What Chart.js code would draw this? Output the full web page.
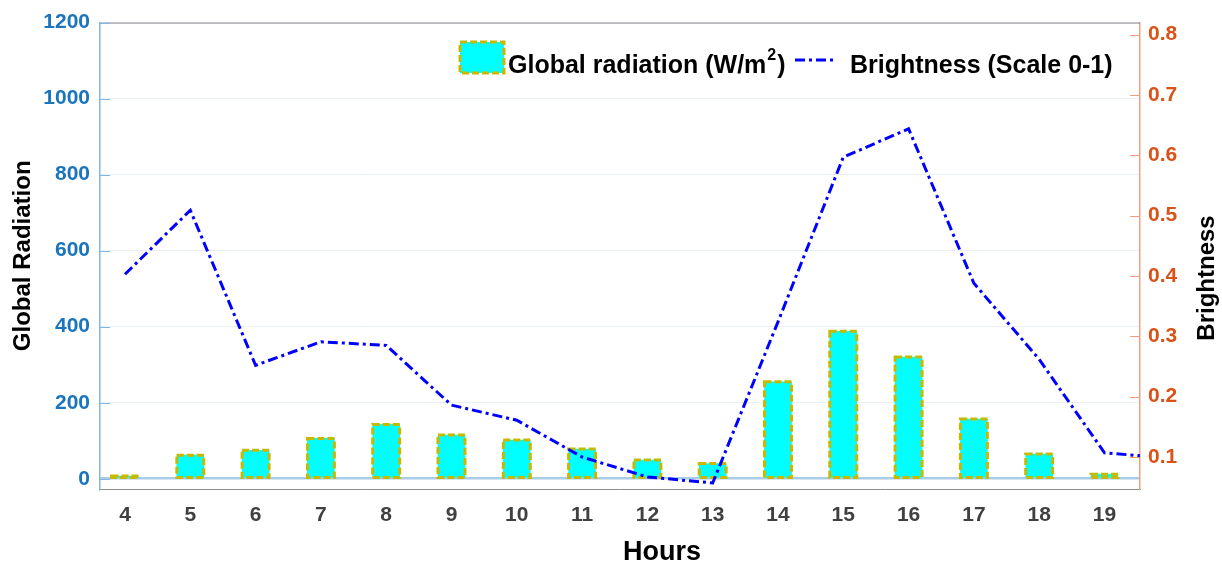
<!DOCTYPE html>
<html>
<head>
<meta charset="utf-8">
<script src="https://cdn.jsdelivr.net/npm/chart.js@4.4.1/dist/chart.umd.min.js"></script>
<style>
  html, body { margin: 0; padding: 0; background: #fff; }
</style>
</head>
<body>
<canvas id="grafico" width="1222" height="568"></canvas>
<script>
// dados
const horas = [4, 5, 6, 7, 8, 9, 10, 11, 12, 13, 14, 15, 16, 17, 18, 19];
const radiacao = [7, 62, 75, 106, 143, 115, 102, 78, 49, 40, 255, 388, 320, 157, 65, 12];
const horasBrilho = [4, 5, 6, 7, 8, 9, 10, 11, 12, 13, 14, 15, 16, 17, 18, 19, 20];
const brilho = [0.403, 0.509, 0.252, 0.291, 0.285, 0.186, 0.161, 0.1, 0.067, 0.057, 0.324, 0.597, 0.644, 0.388, 0.262, 0.107, 0.098];
const ticksRadiacao = [0, 200, 400, 600, 800, 1000, 1200];
const ticksBrilho = [0.1, 0.2, 0.3, 0.4, 0.5, 0.6, 0.7, 0.8];

const FONTE = "'Liberation Sans', Arial, sans-serif";
const AZUL_EIXO = "#1b75bc";
const LARANJA_EIXO = "#d95319";
const OLIVA = "#c8b900";

// ==========================
// bordas tracejadas das barras
// ==========================
const bordaTracejada = {
  id: "bordaTracejada",
  afterDatasetDraw(chart, args) {
    if (args.meta.type !== "bar") return;
    const ctx = chart.ctx;
    ctx.save();
    ctx.strokeStyle = OLIVA;
    ctx.lineWidth = 3;
    ctx.setLineDash([7, 3]);
    args.meta.data.forEach((bar) => {
      const { x, y, base, width } = bar.getProps(["x", "y", "base", "width"], true);
      ctx.strokeRect(x - width / 2, Math.min(y, base), width, Math.abs(base - y));
    });
    ctx.restore();
  },
};

// ==========================
// moldura, marcas, titulos e legenda
// ==========================
const extras = {
  id: "extras",
  beforeDatasetsDraw(chart) {
    const { ctx, chartArea } = chart;
    const yL = chart.scales.y;
    const yR = chart.scales.y1;
    ctx.save();
    ctx.lineWidth = 1;
    ctx.strokeStyle = "#8c8c8c";
    ctx.beginPath();
    ctx.moveTo(chartArea.left, chartArea.top + 0.5);
    ctx.lineTo(chartArea.right, chartArea.top + 0.5);
    ctx.stroke();

    ctx.strokeStyle = "#80b6e0";
    yL.ticks.forEach((t) => {
      const py = Math.round(yL.getPixelForValue(t.value)) + 0.5;
      ctx.beginPath();
      ctx.moveTo(chartArea.left, py);
      ctx.lineTo(chartArea.left + 10, py);
      ctx.stroke();
    });
    ctx.strokeStyle = "#f0a080";
    yR.ticks.forEach((t) => {
      const py = Math.round(yR.getPixelForValue(t.value)) + 0.5;
      ctx.beginPath();
      ctx.moveTo(chartArea.right - 10, py);
      ctx.lineTo(chartArea.right, py);
      ctx.stroke();
    });
    ctx.restore();
  },
  afterDraw(chart) {
    const ctx = chart.ctx;
    ctx.save();
    ctx.fillStyle = "#000";

    // titulo eixo x
    ctx.font = `bold 27px ${FONTE}`;
    ctx.textAlign = "center";
    ctx.textBaseline = "middle";
    ctx.fillText("Hours", 662, 553);

    // titulo eixo direito (rotacionado)
    ctx.save();
    ctx.translate(1207, 278);
    ctx.rotate(-Math.PI / 2);
    ctx.font = `bold 24px ${FONTE}`;
    ctx.fillText("Brightness", 0, 0);
    ctx.restore();

    // legenda
    ctx.fillStyle = "#00ffff";
    ctx.fillRect(460, 42, 44, 31);
    ctx.strokeStyle = OLIVA;
    ctx.lineWidth = 3;
    ctx.setLineDash([7, 3]);
    ctx.strokeRect(460, 42, 44, 31);
    ctx.setLineDash([]);

    ctx.fillStyle = "#000";
    ctx.textAlign = "left";
    ctx.textBaseline = "alphabetic";
    ctx.font = `bold 25px ${FONTE}`;
    let x = 508;
    const base = 73;
    const t1 = "Global radiation (W/m";
    ctx.fillText(t1, x, base);
    x += ctx.measureText(t1).width + 1;
    ctx.font = `bold 16px ${FONTE}`;
    ctx.fillText("2", x, base - 13);
    x += ctx.measureText("2").width + 1;
    ctx.font = `bold 25px ${FONTE}`;
    ctx.fillText(")", x, base);

    ctx.strokeStyle = "#0000ff";
    ctx.lineWidth = 3;
    ctx.setLineDash([10, 4, 3, 4]);
    ctx.beginPath();
    ctx.moveTo(795, 60);
    ctx.lineTo(836, 60);
    ctx.stroke();
    ctx.setLineDash([]);

    ctx.fillText("Brightness (Scale 0-1)", 850, base);
    ctx.restore();
  },
};

// ==========================
// grafico
// ==========================
const ctx = document.getElementById("grafico").getContext("2d");
new Chart(ctx, {
  type: "bar",
  data: {
    datasets: [
      {
        type: "line",
        label: "Brightness (Scale 0-1)",
        data: horasBrilho.map((h, i) => ({ x: h, y: brilho[i] })),
        yAxisID: "y1",
        borderColor: "#0000ff",
        borderWidth: 3,
        borderDash: [10, 4, 3, 4],
        pointRadius: 0,
        tension: 0,
        fill: false,
        order: 1,
      },
      {
        type: "bar",
        label: "Global radiation (W/m2)",
        data: horas.map((h, i) => ({ x: h, y: radiacao[i] })),
        yAxisID: "y",
        backgroundColor: "#00ffff",
        borderWidth: 0,
        barThickness: 27,
        order: 2,
      },
    ],
  },
  options: {
    responsive: false,
    animation: false,
    layout: { padding: { top: 22, left: 0, right: 0, bottom: 0 } },
    plugins: { legend: { display: false }, tooltip: { enabled: false } },
    scales: {
      x: {
        type: "linear",
        min: 3.617,
        max: 19.544,
        offset: false,
        grid: { display: false, offset: false },
        border: { color: "#8c8c8c", width: 1 },
        afterBuildTicks: (axis) => {
          axis.ticks = horas.map((v) => ({ value: v }));
        },
        afterFit: (axis) => {
          axis.height = 79;
        },
        ticks: {
          autoSkip: false,
          maxRotation: 0,
          padding: 6,
          color: "#404040",
          font: { family: FONTE, size: 21, weight: "bold" },
          callback: (v) => String(v),
        },
      },
      y: {
        position: "left",
        min: -27,
        max: 1200,
        afterBuildTicks: (axis) => {
          axis.ticks = ticksRadiacao.map((v) => ({ value: v }));
        },
        afterFit: (axis) => {
          axis.width = 100;
        },
        grid: {
          drawTicks: false,
          color: (c) => (c.tick && c.tick.value === 0 ? "#a9cde8" : "#e8eff7"),
          lineWidth: (c) => (c.tick && c.tick.value === 0 ? 2.5 : 1),
        },
        border: { color: "#80b6e0", width: 1.5 },
        ticks: {
          padding: 10,
          color: AZUL_EIXO,
          font: { family: FONTE, size: 21, weight: "bold" },
          callback: (v) => String(v),
        },
        title: {
          display: true,
          text: "Global Radiation",
          color: "#000",
          font: { family: FONTE, size: 24, weight: "bold" },
          padding: { top: 9, bottom: 0 },
        },
      },
      y1: {
        position: "right",
        min: 0.047,
        max: 0.82,
        afterBuildTicks: (axis) => {
          axis.ticks = ticksBrilho.map((v) => ({ value: v }));
        },
        afterFit: (axis) => {
          axis.width = 82;
        },
        grid: { display: false, drawTicks: false },
        border: { color: "#f0a080", width: 1.5 },
        ticks: {
          padding: 8,
          color: LARANJA_EIXO,
          font: { family: FONTE, size: 21, weight: "bold" },
          callback: (v) => v.toFixed(1),
        },
      },
    },
  },
  plugins: [bordaTracejada, extras],
});
</script>
</body>
</html>
